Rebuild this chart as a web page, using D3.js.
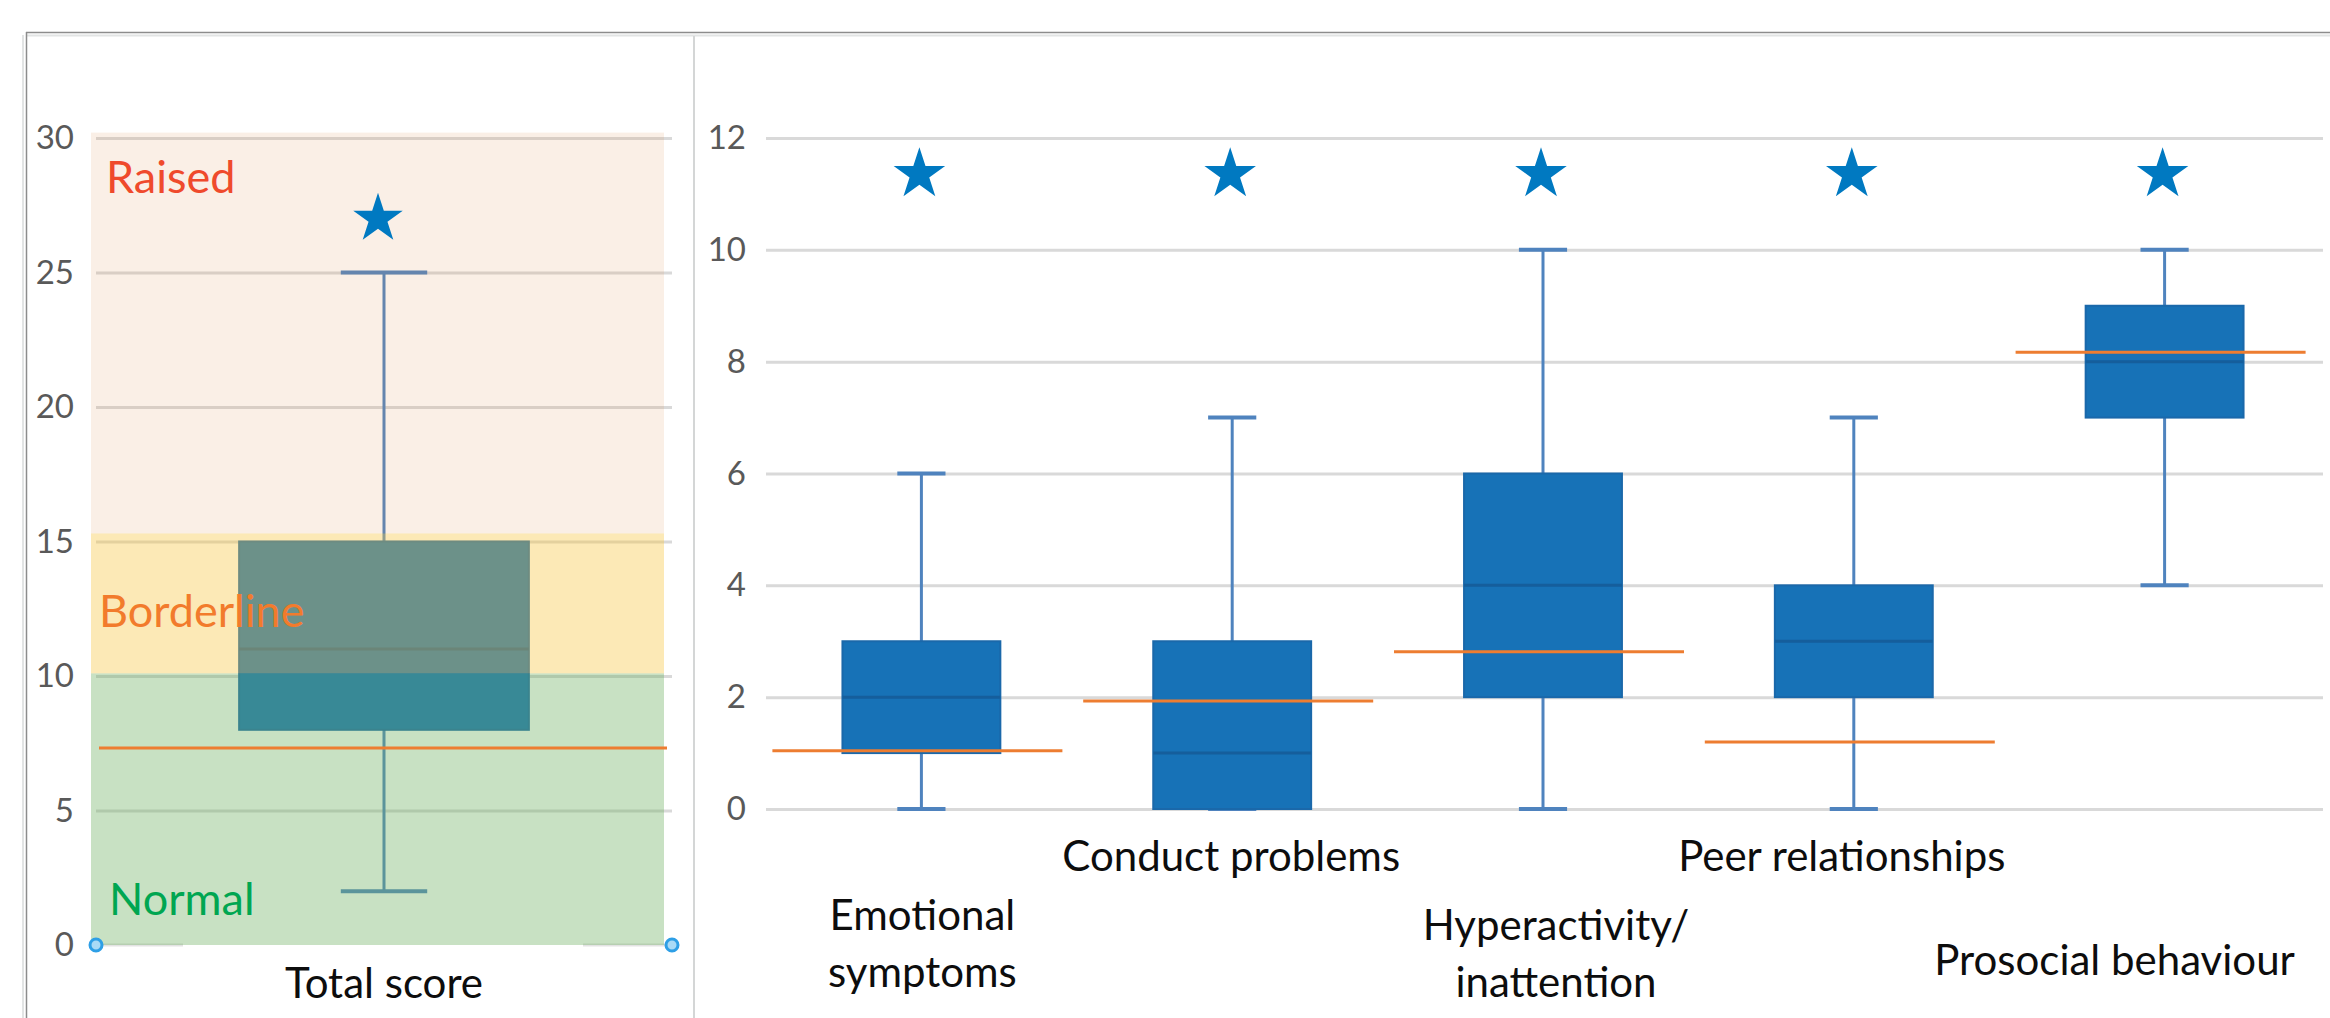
<!DOCTYPE html>
<html><head><meta charset="utf-8">
<script src="https://cdn.jsdelivr.net/npm/d3@7"></script>
<style>
html,body{margin:0;padding:0;background:#fff;}
svg{display:block;font-family:Lato,"Open Sans",sans-serif;}
</style></head><body>
<svg id="chart" width="2330" height="1018"></svg>
<script>
// ---------- data ----------
const totalCategory = ["Total score"];
const totalMin = [2];
const totalQ1 = [8];
const totalMedian = [11];
const totalQ3 = [15];
const totalMax = [25];
const totalMean = [7.32];
const totalStar = [27];
const totalTicks = [0, 5, 10, 15, 20, 25, 30];

const bandNames = ["Normal", "Borderline", "Raised"];
const bandLow = [0, 10.1, 15.3];
const bandHigh = [10.1, 15.3, 30.2];

const subCategories = ["Emotional symptoms", "Conduct problems", "Hyperactivity/ inattention", "Peer relationships", "Prosocial behaviour"];
const subLabelLines = [["Emotional", "symptoms"], ["Conduct problems"], ["Hyperactivity/", "inattention"], ["Peer relationships"], ["Prosocial behaviour"]];
const subMin = [0, 0, 0, 0, 4];
const subQ1 = [1, 0, 2, 2, 7];
const subMedian = [2, 1, 4, 3, 8];
const subQ3 = [3, 3, 6, 4, 9];
const subMax = [6, 7, 10, 7, 10];
const subMean = [1.04, 1.93, 2.81, 1.2, 8.17];
const subStar = [11.35, 11.35, 11.35, 11.35, 11.35];
const subTicks = [0, 2, 4, 6, 8, 10, 12];

// ---------- layout / style ----------
const bandFill = {Normal: "#6EB061", Borderline: "#F8C53E", Raised: "#DE9458"};
const bandAlpha = {Normal: 0.38, Borderline: 0.38, Raised: 0.15};
const bandTextColor = {Normal: "#00A651", Borderline: "#F27B2C", Raised: "#EF4A2C"};
const bandTextAt = {Normal: 1.1, Borderline: 11.82, Raised: 27.96};
const bandTextX = {Normal: 109, Borderline: 99, Raised: 106};
const labelDx = [1, -1, 13, -12, -50];
const labelBaseline = [930, 871, 940, 871, 975];
const boxFill = "#1772B7", boxStroke = "#1A68AA", whiskerColor = "#4F83BE", meanColor = "#ED7D31", starColor = "#0079C1";

const svg = d3.select("#chart");

// frame
svg.append("line").attr("x1", 23).attr("x2", 23).attr("y1", 35).attr("y2", 1018).attr("stroke", "#E2E4E4").attr("stroke-width", 2);
svg.append("line").attr("x1", 27).attr("x2", 2330).attr("y1", 35.5).attr("y2", 35.5).attr("stroke", "#E2E4E4").attr("stroke-width", 2);
svg.append("line").attr("x1", 26.5).attr("x2", 26.5).attr("y1", 32).attr("y2", 1018).attr("stroke", "#8C8C8C").attr("stroke-width", 1.5);
svg.append("line").attr("x1", 26).attr("x2", 2330).attr("y1", 32.5).attr("y2", 32.5).attr("stroke", "#8C8C8C").attr("stroke-width", 1.5);
svg.append("line").attr("x1", 694).attr("x2", 694).attr("y1", 36).attr("y2", 1018).attr("stroke", "#D4D6D6").attr("stroke-width", 2);

// ---------- left chart ----------
const yL = d3.scaleLinear().domain([0, 30]).range([945, 138]);
const xL = d3.scaleBand().domain(totalCategory).range([96, 672]);
const L = svg.append("g");

const axL = L.append("g").attr("transform", "translate(96,0)")
  .call(d3.axisLeft(yL).tickValues(totalTicks).tickSize(-576).tickPadding(22).tickFormat(d3.format("d")));
axL.select(".domain").remove();
axL.selectAll(".tick line").attr("stroke", d => d === 0 ? "none" : "#D9D9D9").attr("stroke-width", 3);
axL.selectAll(".tick text").attr("fill", "#595959").attr("font-size", 33).attr("font-family", "Lato");
// zero line fragments near selection handles
L.append("line").attr("x1", 96).attr("x2", 183).attr("y1", yL(0)).attr("y2", yL(0)).attr("stroke", "#E3E3E3").attr("stroke-width", 3);
L.append("line").attr("x1", 583).attr("x2", 672).attr("y1", yL(0)).attr("y2", yL(0)).attr("stroke", "#E3E3E3").attr("stroke-width", 3);

const tIdx = d3.range(totalCategory.length);
tIdx.forEach(i => {
  const cx = xL(totalCategory[i]) + xL.bandwidth() / 2;
  const bw = xL.bandwidth() * 0.503, cw = xL.bandwidth() * 0.15;
  L.append("line").attr("x1", cx).attr("x2", cx).attr("y1", yL(totalMax[i])).attr("y2", yL(totalQ3[i])).attr("stroke", whiskerColor).attr("stroke-width", 3);
  L.append("line").attr("x1", cx).attr("x2", cx).attr("y1", yL(totalQ1[i])).attr("y2", yL(totalMin[i])).attr("stroke", whiskerColor).attr("stroke-width", 3);
  [totalMax[i], totalMin[i]].forEach(v => L.append("line").attr("x1", cx - cw / 2).attr("x2", cx + cw / 2).attr("y1", yL(v)).attr("y2", yL(v)).attr("stroke", whiskerColor).attr("stroke-width", 4));
  L.append("rect").attr("x", cx - bw / 2).attr("width", bw).attr("y", yL(totalQ3[i])).attr("height", yL(totalQ1[i]) - yL(totalQ3[i]))
    .attr("fill", boxFill).attr("stroke", boxStroke).attr("stroke-width", 2);
  L.append("line").attr("x1", cx - bw / 2).attr("x2", cx + bw / 2).attr("y1", yL(totalMedian[i])).attr("y2", yL(totalMedian[i])).attr("stroke", "#155E9C").attr("stroke-width", 3);
});

// translucent bands on top
bandNames.forEach((n, i) => {
  L.append("rect").attr("x", 91).attr("width", 573).attr("y", yL(bandHigh[i])).attr("height", yL(bandLow[i]) - yL(bandHigh[i]))
    .attr("fill", bandFill[n]).attr("fill-opacity", bandAlpha[n]);
});

tIdx.forEach(i => {
  const cx = xL(totalCategory[i]) + xL.bandwidth() / 2;
  L.append("line").attr("x1", cx - 285).attr("x2", cx + 283).attr("y1", yL(totalMean[i])).attr("y2", yL(totalMean[i])).attr("stroke", meanColor).attr("stroke-width", 3);
  L.append("path").attr("d", d3.symbol(d3.symbolStar, 760)()).attr("transform", `translate(${cx - 6},${yL(totalStar[i])})`).attr("fill", starColor);
  L.append("text").attr("x", cx).attr("y", 998).attr("text-anchor", "middle").attr("font-size", 42).attr("fill", "#0D0D0D").text(totalCategory[i]);
});

bandNames.forEach(n => {
  L.append("text").attr("x", bandTextX[n]).attr("y", yL(bandTextAt[n])).attr("font-size", 45).attr("fill", bandTextColor[n]).text(n);
});

// selection handles
[96, 672].forEach(x => L.append("circle").attr("cx", x).attr("cy", yL(0)).attr("r", 6).attr("fill", "#A9DAF6").attr("stroke", "#2E9FE6").attr("stroke-width", 3));

// ---------- right chart ----------
const yR = d3.scaleLinear().domain([0, 12]).range([809, 138]);
const xR = d3.scaleBand().domain(subCategories).range([766, 2320]);
const R = svg.append("g");

const axR = R.append("g").attr("transform", "translate(766,0)")
  .call(d3.axisLeft(yR).tickValues(subTicks).tickSize(-1557).tickPadding(20).tickFormat(d3.format("d")));
axR.select(".domain").remove();
axR.selectAll(".tick line").attr("stroke", "#D9D9D9").attr("stroke-width", 3);
axR.selectAll(".tick text").attr("fill", "#595959").attr("font-size", 33).attr("font-family", "Lato");

subCategories.forEach((c, i) => {
  const cx = xR(c) + xR.bandwidth() / 2;
  const bw = xR.bandwidth() * 0.508, cw = xR.bandwidth() * 0.155;
  R.append("line").attr("x1", cx).attr("x2", cx).attr("y1", yR(subMax[i])).attr("y2", yR(subQ3[i])).attr("stroke", whiskerColor).attr("stroke-width", 3);
  R.append("line").attr("x1", cx).attr("x2", cx).attr("y1", yR(subQ1[i])).attr("y2", yR(subMin[i])).attr("stroke", whiskerColor).attr("stroke-width", 3);
  [subMax[i], subMin[i]].forEach(v => R.append("line").attr("x1", cx - cw / 2).attr("x2", cx + cw / 2).attr("y1", yR(v)).attr("y2", yR(v)).attr("stroke", whiskerColor).attr("stroke-width", 4));
  R.append("rect").attr("x", cx - bw / 2).attr("width", bw).attr("y", yR(subQ3[i])).attr("height", yR(subQ1[i]) - yR(subQ3[i]))
    .attr("fill", boxFill).attr("stroke", boxStroke).attr("stroke-width", 2);
  R.append("line").attr("x1", cx - bw / 2).attr("x2", cx + bw / 2).attr("y1", yR(subMedian[i])).attr("y2", yR(subMedian[i])).attr("stroke", "#155E9C").attr("stroke-width", 3);
  R.append("line").attr("x1", cx - 149).attr("x2", cx + 141).attr("y1", yR(subMean[i])).attr("y2", yR(subMean[i])).attr("stroke", meanColor).attr("stroke-width", 3);
  R.append("path").attr("d", d3.symbol(d3.symbolStar, 824)()).attr("transform", `translate(${cx - 2},${yR(subStar[i])})`).attr("fill", starColor);
  const t = R.append("text").attr("text-anchor", "middle").attr("font-size", 42).attr("fill", "#0D0D0D");
  subLabelLines[i].forEach((ln, k) => t.append("tspan").attr("x", cx + labelDx[i]).attr("y", labelBaseline[i] + k * 57).text(ln));
});
</script>
</body></html>
